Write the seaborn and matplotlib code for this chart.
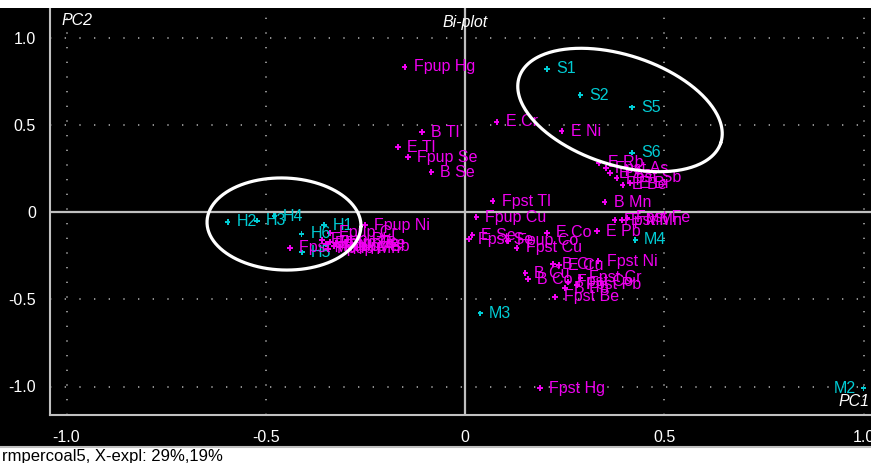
import numpy as np
import pandas as pd
import matplotlib
matplotlib.use("Agg")
import matplotlib.pyplot as plt
import seaborn as sns
from matplotlib.patches import Rectangle
from matplotlib.lines import Line2D

sns.set_style("dark")
plt.rcParams['font.family'] = ['Liberation Sans', 'DejaVu Sans']

# ---- data: sample scores (cyan) ----
sample_names = ["S1", "S2", "S5", "S6", "H1", "H2", "H3", "H4", "H5", "H6", "M2", "M3", "M4"]
sample_pc1 = [0.206, 0.289, 0.419, 0.419, -0.354, -0.595, -0.522, -0.479, -0.409, -0.410, 1.000, 0.038, 0.427]
sample_pc2 = [0.820, 0.670, 0.600, 0.340, -0.075, -0.057, -0.050, -0.023, -0.230, -0.126, -1.010, -0.580, -0.160]

# ---- data: variable loadings (magenta) ----
var_names = ["Fpup Hg", "E Cr", "E Ni", "B Tl", "E Tl", "Fpup Se", "B Se", "Fpst Tl",
             "Fpup Cu", "E Co", "E Se", "Fpst Se", "Fpup Co", "Fpst Cu", "E Pb", "B Mn",
             "Fpst Mn", "E Mn", "Fpst Fe", "E Rb", "Fpst As", "E As", "Fpst Sb", "E Be", "E Bi",
             "B Cr", "E Cu", "Fpst Ni", "B Cu", "B Co", "Fpst Cr", "Fpst Co", "Fpst Pb", "B Pb",
             "Fpst Be", "Fpst Hg", "Fpup Ni", "Fpup Cr", "Fpst Mo", "Fpup Pb", "Fpup Zn",
             "Fpup Fe", "Fpup As", "Fpup Mn", "Fpup Be", "Fpup Sb"]
var_pc1 = [-0.151, 0.080, 0.243, -0.108, -0.168, -0.143, -0.085, 0.070,
           0.028, 0.206, 0.018, 0.010, 0.108, 0.130, 0.331, 0.351,
           0.376, 0.394, 0.407, 0.336, 0.354, 0.364, 0.381, 0.396, 0.414,
           0.221, 0.236, 0.334, 0.151, 0.158, 0.289, 0.258, 0.281, 0.251,
           0.226, 0.188, -0.251, -0.339, -0.439, -0.359, -0.349,
           -0.339, -0.329, -0.344, -0.324, -0.314]
var_pc2 = [0.831, 0.516, 0.464, 0.458, 0.372, 0.315, 0.229, 0.063,
           -0.029, -0.120, -0.132, -0.155, -0.166, -0.206, -0.109, 0.057,
           -0.046, -0.046, -0.034, 0.281, 0.252, 0.223, 0.195, 0.155, 0.166,
           -0.298, -0.304, -0.281, -0.350, -0.384, -0.378, -0.401, -0.418, -0.436,
           -0.487, -1.009, -0.075, -0.120, -0.206, -0.160, -0.183,
           -0.172, -0.195, -0.212, -0.178, -0.200]

x_ticks = [-1.0, -0.5, 0.0, 0.5, 1.0]
x_tick_labels = ["-1.0", "-0.5", "0", "0.5", "1.0"]
y_ticks = [-1.0, -0.5, 0.0, 0.5, 1.0]
y_tick_labels = ["-1.0", "-0.5", "0", "0.5", "1.0"]

CYAN = "#00CCD4"
MAGENTA = "#F000F0"
GRAY = "#C0C0C0"

df = pd.DataFrame({
    "PC1": sample_pc1 + var_pc1,
    "PC2": sample_pc2 + var_pc2,
    "name": sample_names + var_names,
    "kind": ["sample"] * len(sample_names) + ["variable"] * len(var_names),
})

W, H = 871, 463
fig = plt.figure(figsize=(W / 100, H / 100), dpi=100, facecolor="black")
ax = fig.add_axes([50 / W, (H - 415) / H, (W - 50) / W, (415 - 8) / H])
ax.set_facecolor("black")

# scales
X0, XPX = 465, 398.5
Y0, YPX = 212, 174.5
ax.set_xlim((50 - X0) / XPX, (W - X0) / XPX)
ax.set_ylim((Y0 - 415) / YPX, (Y0 - 8) / YPX)

# grid dotted lines
for v in [-1.0, -0.5, 0.5, 1.0]:
    ax.axvline(v, color="#A8A8A8", lw=1.2, ls=(0, (0.8, 8)), zorder=1)
    ax.axhline(v, color="#A8A8A8", lw=1.2, ls=(0, (0.8, 8)), zorder=1)
ax.axvline(0, color=GRAY, lw=1.6, zorder=1)
ax.axhline(0, color=GRAY, lw=1.6, zorder=1)

sns.scatterplot(data=df, x="PC1", y="PC2", hue="kind",
                palette={"sample": CYAN, "variable": MAGENTA},
                marker="P", s=14, linewidth=0, legend=False, ax=ax, zorder=3)

xoff = 9 / XPX
for _, r in df.iterrows():
    col = CYAN if r["kind"] == "sample" else MAGENTA
    if r["name"] == "M2":
        ax.text(r["PC1"] - 8 / XPX, r["PC2"], r["name"], color=col, fontsize=11.5,
                ha="right", va="center", zorder=4)
    else:
        ax.text(r["PC1"] + xoff, r["PC2"], r["name"], color=col, fontsize=11.5,
                ha="left", va="center", zorder=4)

# ellipses (drawn in pixel space then mapped to data units)
def ellipse(cx_px, cy_px, a, b, ang_deg):
    t = np.linspace(0, 2 * np.pi, 300)
    ph = np.deg2rad(ang_deg)
    xp = cx_px + a * np.cos(t) * np.cos(ph) - b * np.sin(t) * np.sin(ph)
    yp = cy_px + a * np.cos(t) * np.sin(ph) + b * np.sin(t) * np.cos(ph)
    ax.plot((xp - X0) / XPX, (Y0 - yp) / YPX, color="white", lw=2.3, zorder=5)

ellipse(284, 224, 77, 46, 2)
ellipse(620, 110, 106, 55, 18)

# axes styling
ax.set_xticks(x_ticks)
ax.set_xticklabels(x_tick_labels)
ax.set_yticks(y_ticks)
ax.set_yticklabels(y_tick_labels)
ax.set_xticks(np.arange(-1.0, 1.01, 0.1), minor=True)
ax.set_yticks(np.arange(-1.1, 1.11, 0.1), minor=True)
ax.tick_params(axis="both", which="major", colors=GRAY, labelcolor="white",
               labelsize=11.5, length=7, width=1.2, direction="out")
ax.tick_params(axis="both", which="minor", colors=GRAY, length=4, width=1.2, direction="out")
ax.tick_params(axis="x", pad=4)
ax.tick_params(axis="y", pad=3)
ax.grid(False)
for s in ["top", "right"]:
    ax.spines[s].set_visible(False)
for s in ["left", "bottom"]:
    ax.spines[s].set_color(GRAY)
    ax.spines[s].set_linewidth(1.5)
ax.set_xlabel("")
ax.set_ylabel("")

# titles
ax.text((62 - X0) / XPX, (Y0 - 20) / YPX, "PC2", color="white", fontsize=11.5,
        style="italic", ha="left", va="center")
ax.text(0, (Y0 - 22) / YPX, "Bi-plot", color="white", fontsize=11.5,
        style="italic", ha="center", va="center")
ax.text((W - 2 - X0) / XPX, (Y0 - 402) / YPX, "PC1", color="white", fontsize=11.5,
        style="italic", ha="right", va="center")

# window chrome bands
fig.patches.append(Rectangle((0, 1 - 8 / H), 1, 8 / H, transform=fig.transFigure,
                             facecolor="white", edgecolor="none", zorder=0))
fig.patches.append(Rectangle((0, 0), 1, (H - 448) / H, transform=fig.transFigure,
                             facecolor="white", edgecolor="none", zorder=0))
fig.lines.append(Line2D([0, 1], [(H - 447) / H] * 2, transform=fig.transFigure,
                        color=GRAY, lw=1.5))
fig.text(2 / W, (H - 456) / H, "rmpercoal5, X-expl: 29%,19%", color="black",
         fontsize=12, ha="left", va="center")

fig.savefig("out.png", dpi=100, facecolor="black")
